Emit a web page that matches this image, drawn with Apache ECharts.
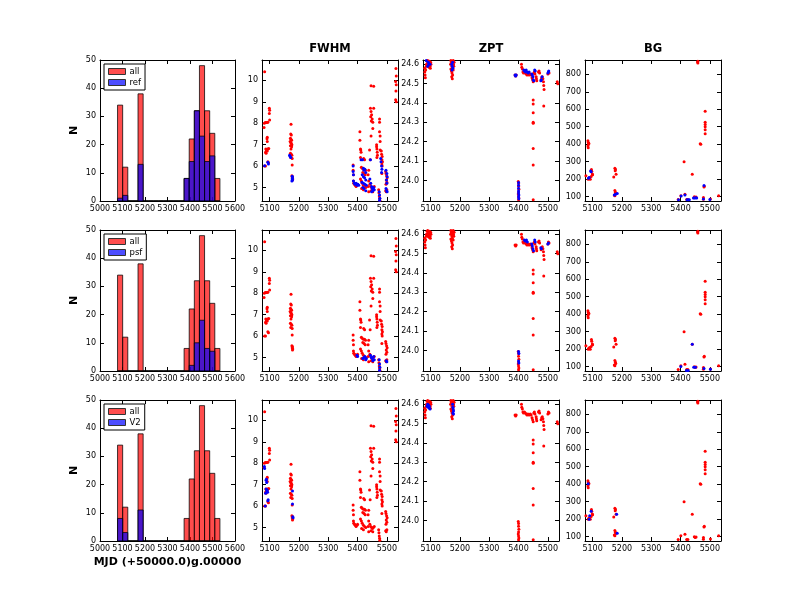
<!DOCTYPE html>
<html>
<head>
<meta charset="utf-8">
<script src="https://cdn.jsdelivr.net/npm/echarts@6/dist/echarts.min.js"></script>
<style>html,body{margin:0;padding:0;background:#fff;}#c{width:800px;height:600px;}</style>
</head>
<body>
<div id="c"></div>
<script>
// ---------------- DATA ----------------
const histEdges = [5078, 5100.75, 5123.5, 5146.25, 5169, 5191.75, 5214.5, 5237.25, 5260, 5282.75, 5305.5, 5328.25, 5351, 5373.75, 5396.5, 5419.25, 5442, 5464.75, 5487.5, 5510.25, 5533];
const histAll = [34, 12, 0, 0, 38, 0, 0, 0, 0, 0, 0, 0, 0, 8, 22, 32, 48, 32, 24, 8];
const histRef = [1, 2, 0, 0, 13, 0, 0, 0, 0, 0, 0, 0, 0, 8, 14, 32, 23, 14, 16, 0];
const histPsf = [0, 0, 0, 0, 0, 0, 0, 0, 0, 0, 0, 0, 0, 0, 2, 10, 18, 8, 7, 0];
const histV2  = [8, 3, 0, 0, 11, 0, 0, 0, 0, 0, 0, 0, 0, 0, 0, 0, 0, 0, 0, 0];
const subsetNames = ['ref', 'psf', 'V2'];
const panelTitles = ['FWHM', 'ZPT', 'BG'];
const xLabel = 'MJD (+50000.0)g.00000';
const yLabel = 'N';

const histXTicks = [5000, 5100, 5200, 5300, 5400, 5500, 5600];
const histYTicks = [0, 10, 20, 30, 40, 50];
const mjdTicks = [5100, 5200, 5300, 5400, 5500];
const fwhmTicks = [5, 6, 7, 8, 9, 10];
const zptTicks = [24.0, 24.1, 24.2, 24.3, 24.4, 24.5, 24.6];
const bgTicks = [100, 200, 300, 400, 500, 600, 700, 800];

const fwhmAll = [
 [5083,10.4],[5082,8.0],[5085,8.03],[5088,8.03],[5091,8.03],[5094,8.05],[5081,7.8],[5092,7.35],[5091,7.28],[5092,7.15],
 [5087,6.8],[5089,6.75],[5091,6.78],[5094,6.8],[5097,6.82],[5086,6.65],[5088,6.6],[5092,6.7],[5094,6.2],[5096,6.15],
 [5083,6.0],[5086,6.0],[5099,8.7],[5100,8.6],[5099,8.45],[5100,8.15],
 [5173,7.95],[5172,7.5],[5174,7.45],[5171,7.3],[5173,7.25],[5175,7.2],[5170,7.15],[5172,7.1],[5174,7.05],[5176,7.0],
 [5171,6.95],[5175,6.9],[5173,6.8],[5171,6.6],[5174,6.55],[5176,6.5],[5172,6.4],[5177,6.35],[5177,6.05],
 [5176,5.55],[5178,5.5],[5177,5.45],[5179,5.4],[5178,5.35],
 [5385,6.05],[5385,5.8],[5386,5.6],[5386,5.3],[5387,5.2],[5390,5.15],[5392,5.1],[5395,5.05],[5398,5.1],[5400,5.15],
 [5408,7.6],[5408,7.2],[5410,6.8],[5411,6.75],[5412,6.65],[5410,6.4],[5421,6.35],[5424,6.3],
 [5413,5.95],[5416,5.9],[5420,5.85],[5424,5.85],[5427,5.8],[5418,5.7],[5422,5.65],[5426,5.6],
 [5410,5.4],[5413,5.3],[5416,5.2],[5420,5.1],[5424,5.05],[5428,5.0],[5414,4.95],[5420,4.9],
 [5438,5.8],[5436,5.6],[5438,5.3],[5436,5.05],[5438,4.8],[5441,6.75],[5443,6.3],
 [5444,8.7],[5446,8.55],[5448,8.4],[5445,8.3],[5450,8.2],[5447,8.1],[5452,8.05],[5455,8.7],[5446,9.75],[5455,9.72],
 [5452,7.75],[5446,7.4],[5442,5.15],[5445,5.05],[5448,5.0],[5451,4.95],[5454,5.0],[5457,5.05],[5446,4.85],[5452,4.8],
 [5465,7.0],[5465,6.9],[5466,6.8],[5467,6.65],[5468,6.5],[5466,6.4],
 [5475,8.2],[5475,8.05],[5475,7.6],[5477,7.4],[5477,7.15],[5477,6.75],[5481,6.7],[5482,6.55],[5484,6.45],[5483,6.3],
 [5485,6.2],[5483,6.1],[5484,6.0],[5483,5.65],
 [5472,4.9],[5473,4.75],[5474,4.6],[5475,4.5],[5476,4.4],
 [5496,5.75],[5497,5.65],[5499,5.55],[5501,5.45],[5498,5.35],[5500,5.25],[5497,5.15],[5496,4.85],[5498,4.8],[5500,4.9],
 [5531,10.55],[5532,10.2],[5530,9.95],[5532,9.8],[5531,9.5],[5530,9.1],[5532,9.0]
];
const fwhmRef = [
 [5083,6.02],[5094,6.18],[5096,6.1],[5168,6.5],[5170,6.45],[5172,6.4],
 [5177,5.52],[5178,5.45],[5177,5.4],[5178,5.35],[5176,5.3],
 [5385,6.0],[5385,5.75],[5386,5.6],[5386,5.3],[5389,5.2],[5392,5.15],[5395,5.2],[5398,5.1],[5401,5.15],[5404,5.1],
 [5412,6.3],[5417,6.3],[5420,5.9],[5422,5.8],[5425,5.85],[5428,5.7],[5416,5.6],[5420,5.5],[5424,5.45],[5428,5.35],
 [5415,5.25],[5420,5.2],[5425,5.15],[5430,5.1],[5418,5.0],[5422,4.95],[5428,4.85],[5444,6.3],
 [5442,5.4],[5445,5.2],[5448,5.05],[5450,4.95],[5452,4.85],[5455,5.0],[5457,4.9],[5448,4.8],
 [5474,4.8],[5475,4.65],[5476,4.5],[5475,4.4],
 [5479,6.35],[5480,6.2],[5482,6.0],[5483,5.85],[5482,5.7],
 [5497,5.8],[5500,5.65],[5501,5.5],[5499,5.35],[5500,5.2],[5497,4.95],[5499,4.85],[5501,4.8]
];
const fwhmPsf = [
 [5398,5.1],[5400,5.05],[5418,4.95],[5422,5.0],[5425,5.05],[5428,4.9],[5430,4.95],
 [5444,5.1],[5447,5.0],[5450,4.95],[5452,4.85],[5455,5.05],[5457,4.9],
 [5474,4.9],[5475,4.7],[5476,4.55],[5475,4.4],[5498,4.85],[5500,4.8]
];
const fwhmV2 = [
 [5082,7.85],[5083,7.75],[5088,7.2],[5090,7.1],[5089,7.25],[5088,6.8],[5090,6.7],[5092,6.75],[5086,6.6],[5093,6.65],
 [5094,6.25],[5095,6.3],[5085,6.0],[5178,6.7],[5178,6.1],[5179,5.5],[5180,5.45]
];

const zptAll = [
 [5080,24.58],[5080,24.56],[5081,24.545],[5082,24.53],[5083,24.57],[5085,24.59],[5086,24.6],[5088,24.615],[5090,24.62],[5092,24.61],
 [5094,24.6],[5096,24.615],[5097,24.6],[5098,24.59],[5099,24.58],[5100,24.61],[5101,24.6],[5095,24.585],[5089,24.6],[5091,24.59],
 [5168,24.6],[5169,24.62],[5171,24.61],[5172,24.6],[5173,24.59],[5174,24.58],[5175,24.6],[5176,24.61],[5177,24.62],[5178,24.6],
 [5179,24.59],[5180,24.61],[5169,24.575],[5171,24.565],[5173,24.555],[5175,24.545],[5177,24.57],[5172,24.535],[5174,24.525],
 [5388,24.545],[5390,24.54],[5392,24.545],[5410,24.6],[5411,24.585],[5413,24.575],[5415,24.56],[5417,24.555],[5420,24.56],[5423,24.555],
 [5426,24.55],[5429,24.545],[5432,24.55],[5436,24.545],[5440,24.55],[5443,24.545],[5446,24.53],[5448,24.52],[5450,24.51],[5452,24.555],
 [5454,24.56],[5456,24.55],[5460,24.535],[5461,24.525],[5462,24.515],[5468,24.56],[5470,24.565],[5472,24.555],[5477,24.52],[5479,24.53],
 [5481,24.535],[5483,24.525],[5485,24.51],[5486,24.49],[5487,24.47],[5486,24.385],[5500,24.55],[5502,24.56],[5504,24.555],[5532,24.51],[5534,24.5],
 [5450,24.415],[5450,24.395],[5450,24.35],[5450,24.3],[5450,24.295],[5450,24.165],[5450,24.08],[5450,23.9],
 [5399,23.995],[5400,23.985],[5400,23.97],[5401,23.955],[5400,23.94],[5399,23.93],[5400,23.92],[5401,23.91],[5400,23.9]
];
const zptRef = [
 [5085,24.62],[5090,24.59],[5092,24.61],[5094,24.6],[5098,24.6],
 [5172,24.6],[5174,24.59],[5176,24.58],[5173,24.57],[5175,24.61],
 [5388,24.545],[5390,24.54],[5392,24.545],
 [5418,24.57],[5420,24.565],[5424,24.56],[5426,24.57],[5430,24.56],[5433,24.555],[5436,24.56],[5445,24.55],[5447,24.545],
 [5449,24.535],[5450,24.52],[5452,24.515],[5455,24.57],[5457,24.565],[5476,24.515],[5478,24.52],[5480,24.535],[5500,24.555],[5502,24.56],[5503,24.565],
 [5400,23.99],[5400,23.975],[5400,23.96],[5400,23.945],[5400,23.935],[5401,23.925],[5400,23.915],[5401,23.905]
];
const zptPsf = [
 [5420,24.57],[5423,24.565],[5427,24.57],[5430,24.56],[5445,24.55],[5447,24.54],[5449,24.525],[5451,24.515],[5455,24.57],[5457,24.56],
 [5476,24.53],[5478,24.525],[5500,24.55],[5502,24.555],[5400,23.995],[5401,23.985],[5400,23.945],[5401,23.935]
];
const zptV2 = [
 [5088,24.59],[5090,24.6],[5093,24.595],[5095,24.59],[5096,24.58],[5098,24.575],[5092,24.585],
 [5175,24.6],[5176,24.585],[5177,24.575],[5178,24.565],[5176,24.555],[5178,24.55]
];

const bgAll = [
 [5084,420],[5085,410],[5086,400],[5084,390],[5085,380],[5087,405],
 [5096,255],[5097,245],[5099,230],[5100,225],[5095,215],[5090,210],[5087,205],[5092,200],[5085,200],[5077,220],
 [5176,262],[5178,255],[5177,248],[5172,213],[5180,228],[5176,135],[5178,125],[5174,110],[5176,105],[5179,118],
 [5401,105],[5392,83],[5412,300],[5415,113],[5425,83],[5421,84],[5440,228],[5447,100],[5450,95],[5453,98],
 [5458,870],[5459,875],[5459,865],[5467,402],[5469,400],[5481,160],[5480,155],
 [5484,588],[5484,526],[5484,513],[5484,500],[5484,483],[5484,460],[5478,95],[5478,85],[5502,87],[5530,105]
];
const bgRef = [
 [5093,247],[5095,243],[5088,210],[5086,205],[5178,113],[5184,118],[5174,110],
 [5402,104],[5393,82],[5415,110],[5422,82],[5426,82],[5430,82],
 [5444,92],[5448,92],[5452,93],[5455,92],[5480,163],[5478,87],[5500,84]
];
const bgPsf = [
 [5401,101],[5420,78],[5426,78],[5440,228],[5445,97],[5451,96],[5480,90],[5502,85]
];
const bgV2 = [
 [5085,402],[5090,220],[5088,200],[5095,245],[5182,228],[5184,120]
];

// ---------------- LAYOUT / STYLE ----------------
const FONT = 'DejaVu Sans';
const colLeft = [100, 262, 423, 585];
const colWidth = [135, 136, 136, 136];
const rowTop = [60, 230, 400];
const rowH = 141;

const panelCfg = [
  {xmin: 5000, xmax: 5600, xticks: histXTicks, ymin: 0, ymax: 50, yticks: histYTicks, fmt: v => String(v)},
  {xmin: 5074, xmax: 5538, xticks: mjdTicks, ymin: 4.37, ymax: 10.95, yticks: fwhmTicks, fmt: v => String(v)},
  {xmin: 5074, xmax: 5538, xticks: mjdTicks, ymin: 23.894, ymax: 24.622, yticks: zptTicks, fmt: v => v.toFixed(1)},
  {xmin: 5074, xmax: 5538, xticks: mjdTicks, ymin: 75, ymax: 882, yticks: bgTicks, fmt: v => String(v)}
];

const grids = [], xAxes = [], yAxes = [], series = [], legends = [], graphics = [];

function axisCommon(pos, ticks, showLabel, fmt) {
  return {
    type: 'value', position: pos,
    axisLine: {show: true, onZero: false, lineStyle: {color: '#000', width: 1}},
    axisTick: {show: true, inside: true, length: 4, customValues: ticks, lineStyle: {color: '#000', width: 1}},
    axisLabel: {show: showLabel, customValues: ticks, fontSize: 8, fontFamily: FONT, color: '#000', margin: 4, formatter: fmt},
    splitLine: {show: false}
  };
}

function addPanel(r, c) {
  const cfg = panelCfg[c];
  const gi = grids.length;
  grids.push({left: colLeft[c], top: rowTop[r], width: colWidth[c], height: rowH, show: false});
  ['bottom', 'top'].forEach(pos => {
    xAxes.push(Object.assign(axisCommon(pos, cfg.xticks, pos === 'bottom', v => String(v)),
      {gridIndex: gi, min: cfg.xmin, max: cfg.xmax}));
  });
  ['left', 'right'].forEach(pos => {
    yAxes.push(Object.assign(axisCommon(pos, cfg.yticks, pos === 'left', cfg.fmt),
      {gridIndex: gi, min: cfg.ymin, max: cfg.ymax}));
  });
  return gi;
}

function histSeries(name, gi, counts, fill) {
  const data = counts.map((n, i) => [histEdges[i], histEdges[i + 1], n]);
  return {
    type: 'custom', name: name, xAxisIndex: 2 * gi, yAxisIndex: 2 * gi,
    data: data, encode: {x: [0, 1], y: 2},
    itemStyle: {color: fill},
    renderItem: function (params, api) {
      const p0 = api.coord([api.value(0), api.value(2)]);
      const p1 = api.coord([api.value(1), 0]);
      return {
        type: 'rect',
        shape: {x: p0[0], y: p0[1], width: p1[0] - p0[0], height: p1[1] - p0[1]},
        style: {fill: fill, stroke: 'rgba(0,0,0,0.75)', lineWidth: 1}
      };
    }
  };
}

function scatterSeries(gi, data, color) {
  return {
    type: 'scatter', xAxisIndex: 2 * gi, yAxisIndex: 2 * gi, data: data,
    symbol: 'circle', symbolSize: 3, silent: true,
    itemStyle: {color: color, opacity: 1}
  };
}

const RED = 'rgba(255,0,0,0.7)';
const BLUE = 'rgba(0,0,255,0.7)';
const subsetHists = [histRef, histPsf, histV2];
const subsetFwhm = [fwhmRef, fwhmPsf, fwhmV2];
const subsetZpt = [zptRef, zptPsf, zptV2];
const subsetBg = [bgRef, bgPsf, bgV2];

for (let r = 0; r < 3; r++) {
  const g0 = addPanel(r, 0);
  series.push(histSeries('all', g0, histAll, RED));
  series.push(histSeries(subsetNames[r], g0, subsetHists[r], BLUE));
  yAxes[2 * g0].name = yLabel;
  yAxes[2 * g0].nameLocation = 'middle';
  yAxes[2 * g0].nameRotate = 90;
  yAxes[2 * g0].nameGap = 20;
  yAxes[2 * g0].nameTextStyle = {fontFamily: FONT, fontWeight: 'bold', fontSize: 11, color: '#000'};
  if (r === 2) {
    xAxes[2 * g0].name = xLabel;
    xAxes[2 * g0].nameLocation = 'middle';
    xAxes[2 * g0].nameGap = 16;
    xAxes[2 * g0].nameTextStyle = {fontFamily: FONT, fontWeight: 'bold', fontSize: 11, color: '#000', verticalAlign: 'top'};
  }
  legends.push({
    left: 104, top: rowTop[r] + 4, orient: 'vertical',
    padding: [3, 4, 3, 4], itemGap: 2, itemWidth: 17, itemHeight: 6,
    borderColor: '#000', borderWidth: 1, backgroundColor: '#fff',
    selectedMode: false, icon: 'rect',
    textStyle: {fontFamily: FONT, fontSize: 8.5, color: '#000', padding: [0, 0, 0, -1]},
    data: [
      {name: 'all', itemStyle: {color: '#ff4d4d', borderColor: '#333', borderWidth: 1}},
      {name: subsetNames[r], itemStyle: {color: '#4d4dff', borderColor: '#333', borderWidth: 1}}
    ]
  });
  const g1 = addPanel(r, 1);
  series.push(scatterSeries(g1, fwhmAll, '#ff0000'));
  series.push(scatterSeries(g1, subsetFwhm[r], '#0000ff'));
  const g2 = addPanel(r, 2);
  series.push(scatterSeries(g2, zptAll, '#ff0000'));
  series.push(scatterSeries(g2, subsetZpt[r], '#0000ff'));
  const g3 = addPanel(r, 3);
  series.push(scatterSeries(g3, bgAll, '#ff0000'));
  series.push(scatterSeries(g3, subsetBg[r], '#0000ff'));
}

panelTitles.forEach((t, i) => {
  graphics.push({
    type: 'text', x: colLeft[i + 1] + colWidth[i + 1] / 2, y: 49,
    style: {text: t, align: 'center', verticalAlign: 'middle', font: 'bold 11.5px "DejaVu Sans"', fill: '#000'}
  });
});

const chart = echarts.init(document.getElementById('c'), null, {renderer: 'canvas'});
chart.setOption({
  animation: false,
  backgroundColor: '#fff',
  grid: grids, xAxis: xAxes, yAxis: yAxes,
  legend: legends, series: series, graphic: graphics
});
</script>
</body>
</html>
